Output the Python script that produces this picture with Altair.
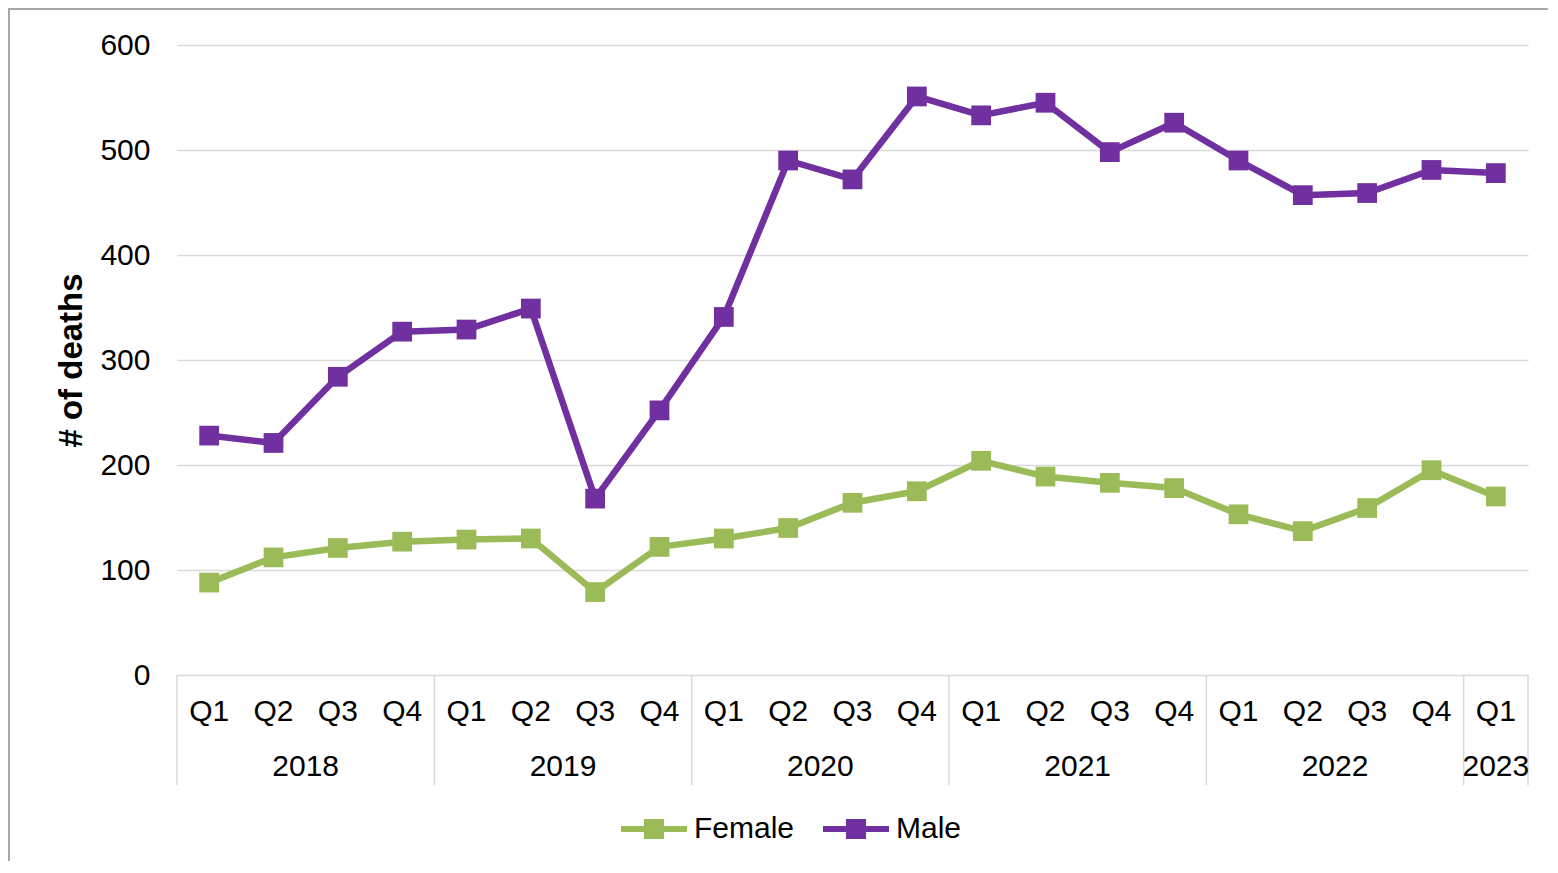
import altair as alt
import pandas as pd

# ---- data ----
years = ["2018"] * 4 + ["2019"] * 4 + ["2020"] * 4 + ["2021"] * 4 + ["2022"] * 4 + ["2023"]
quarters = ["Q1", "Q2", "Q3", "Q4"] * 5 + ["Q1"]
female = [88, 112, 121, 127, 129, 130, 79, 122, 130, 140, 164, 175, 204, 189, 183, 178, 153, 137, 159, 195, 170]
male = [228, 221, 284, 327, 329, 349, 168, 252, 341, 490, 472, 551, 533, 545, 498, 526, 490, 457, 459, 481, 478]
series_names = ["Female", "Male"]
series_colors = ["#9BBB59", "#7030A0"]
y_ticks = [0, 100, 200, 300, 400, 500, 600]
y_title = "# of deaths"

FONT = "Liberation Sans"
W, H = 1351, 630

idx = list(range(len(quarters)))
rows = []
for name, vals in zip(series_names, [female, male]):
    for i, q, yr, v in zip(idx, quarters, years, vals):
        rows.append({"idx": i, "quarter": q, "year": yr, "series": name, "value": v})
long = pd.DataFrame(rows)

cat = pd.DataFrame({"idx": idx, "quarter": quarters, "year": years})
year_df = cat.groupby("year").idx.agg(["min", "max", "mean"]).reset_index()
bounds = sorted(set([m - 0.5 for m in year_df["min"]] + [year_df["max"].max() + 0.5]))
bound_df = pd.DataFrame({"pos": bounds})

x_scale = alt.Scale(domain=[-0.5, len(idx) - 0.5], nice=False, zero=False)
y_scale = alt.Scale(domain=[0, 600], nice=False)

legend_path = "M-1,0H1M-0.212,-0.212H0.212V0.212H-0.212Z"
legend = alt.Legend(
    title=None,
    orient="none",
    legendX=441,
    legendY=748,
    direction="horizontal",
    symbolType=legend_path,
    symbolSize=4356,
    symbolStrokeWidth=6,
    symbolOpacity=1,
    labelFontSize=30,
    labelFont=FONT,
    labelColor="black",
    labelOffset=4,
    columnPadding=16,
    padding=0,
    labelLimit=400,
)

color = alt.Color(
    "series:N",
    scale=alt.Scale(domain=series_names, range=series_colors),
    legend=legend,
)

y_axis = alt.Axis(
    values=y_ticks,
    title=y_title,
    titleFont=FONT,
    titleFontSize=33,
    titleFontWeight="bold",
    titleColor="black",
    titleAngle=270,
    titleX=-106,
    titleY=H / 2,
    titleAlign="center",
    titleBaseline="middle",
    labelFont=FONT,
    labelFontSize=30,
    labelColor="black",
    labelPadding=27,
    ticks=False,
    domain=False,
    grid=True,
    gridColor="#d9d9d9",
    gridWidth=1.5,
)

base = alt.Chart(long)

lines = base.mark_line(strokeWidth=6.5, strokeJoin="round").encode(
    x=alt.X("idx:Q", scale=x_scale, axis=None),
    y=alt.Y("value:Q", scale=y_scale, axis=y_axis),
    color=color,
    detail="series:N",
)

points = base.mark_point(shape="square", filled=True, size=390, opacity=1).encode(
    x=alt.X("idx:Q", scale=x_scale, axis=None),
    y=alt.Y("value:Q", scale=y_scale),
    color=color,
)

q_labels = alt.Chart(cat).mark_text(
    font=FONT, fontSize=30, color="black", baseline="middle", align="center"
).encode(
    x=alt.X("idx:Q", scale=x_scale, axis=None),
    y=alt.value(667),
    text="quarter:N",
)

y_labels = alt.Chart(year_df).mark_text(
    font=FONT, fontSize=30, color="black", baseline="middle", align="center"
).encode(
    x=alt.X("mean:Q", scale=x_scale, axis=None),
    y=alt.value(722),
    text="year:N",
)

separators = alt.Chart(bound_df).mark_rule(color="#d9d9d9", strokeWidth=1.5).encode(
    x=alt.X("pos:Q", scale=x_scale, axis=None),
    y=alt.value(H),
    y2=alt.value(740),
)

frame_df = pd.DataFrame({"k": [0]})
frame_left = alt.Chart(frame_df).mark_rule(color="#a6a6a6", strokeWidth=2).encode(
    x=alt.value(-168), y=alt.value(-37), y2=alt.value(H + 220)
)
frame_top = alt.Chart(frame_df).mark_rule(color="#a6a6a6", strokeWidth=2).encode(
    x=alt.value(-169), x2=alt.value(W + 40), y=alt.value(-36)
)

chart = (
    alt.layer(frame_left, frame_top, separators, q_labels, y_labels, lines, points)
    .properties(
        width=W,
        height=H,
        autosize=alt.AutoSizeParams(type="none"),
        padding={"left": 169, "top": 37, "right": 20, "bottom": 186},
        background="white",
    )
    .configure_view(stroke=None)
)

chart.save("out.html", embed_options={"renderer": "svg", "actions": False})
